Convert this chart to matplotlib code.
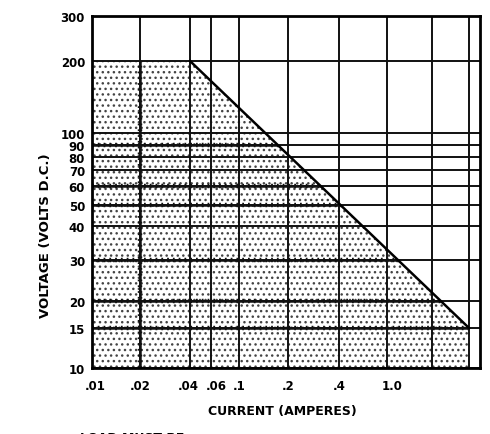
import numpy as np
import matplotlib
matplotlib.use("Agg")
import matplotlib.pyplot as plt
import matplotlib.transforms as mtrans

# grid / tick values
x_grid = [0.01, 0.02, 0.04, 0.06, 0.1, 0.2, 0.4, 1.0, 2.0, 3.0]
x_ticks = [0.01, 0.02, 0.04, 0.06, 0.1, 0.2, 0.4, 1.0]
x_ticklabels = [".01", ".02", ".04", ".06", ".1", ".2", ".4", "1.0"]
y_grid = [10, 15, 20, 30, 40, 50, 60, 70, 80, 90, 100, 200, 300]
y_ticklabels = ["10", "15", "20", "30", "40", "50", "60", "70", "80", "90", "100", "200", "300"]
beaded_y = [15, 20, 30, 50, 60, 90]
beaded_x = [0.02]

# safe operating boundary
limit_current = [0.01, 0.04, 3.0]
limit_voltage = [200, 200, 15]

# the printed paper is not a true log grid, so map positions per line
x_knots = [0.01, 0.02, 0.04, 0.06, 0.1, 0.2, 0.4, 1.0, 2.0, 3.0, 3.4]
x_pos = [92, 140, 190, 211, 239, 288, 339, 387, 432, 469, 480]
y_knots = [10, 15, 20, 30, 40, 50, 60, 70, 80, 90, 100, 200, 300]
y_pos = [369, 329, 302, 261, 227, 206, 187, 171, 158, 146, 134, 62, 17]

lx = np.log10(x_knots)
ly = np.log10(y_knots)
yp = -np.array(y_pos, dtype=float)


def fx(v):
    return np.interp(np.log10(np.clip(v, 1e-6, None)), lx, x_pos)


def fx_inv(p):
    return 10 ** np.interp(p, x_pos, lx)


def fy(v):
    return np.interp(np.log10(np.clip(v, 1e-6, None)), ly, yp)


def fy_inv(p):
    return 10 ** np.interp(p, yp, ly)


plt.rcParams["hatch.linewidth"] = 1.0

fig = plt.figure(figsize=(4.9, 4.35), dpi=100)
ax = fig.add_axes([92 / 490, 1 - 369 / 435, (480 - 92) / 490, (369 - 17) / 435])
ax.set_xscale("function", functions=(fx, fx_inv))
ax.set_yscale("function", functions=(fy, fy_inv))
ax.set_xlim(0.01, 3.4)
ax.set_ylim(10, 300)

# stippled area
px = [limit_current[0]] + limit_current + [limit_current[-1]]
py = [y_grid[0]] + limit_voltage + [y_grid[0]]
shade = ax.fill(px, py, facecolor="white", edgecolor="#444444", linewidth=0,
                hatch="...", zorder=1)[0]

for v in x_grid:
    ax.axvline(v, color="#111111", lw=1.4, zorder=2)
for v in y_grid:
    ax.axhline(v, color="#111111", lw=1.4, zorder=2)

# heavier beaded lines inside the shaded area
for v in beaded_y:
    for ls, lw in [("-", 1.8), ((0, (0.4, 0.9)), 3.2)]:
        ln = ax.axhline(v, color="#111111", lw=lw, ls=ls, zorder=3)
        ln.set_clip_path(shade)
for v in beaded_x:
    for ls, lw in [("-", 1.8), ((0, (0.4, 0.9)), 3.2)]:
        ln = ax.axvline(v, color="#111111", lw=lw, ls=ls, zorder=3)
        ln.set_clip_path(shade)

ax.plot(limit_current[1:], limit_voltage[1:], color="black", lw=1.8, zorder=4)

for s in ax.spines.values():
    s.set_linewidth(2)
    s.set_zorder(5)

ax.set_xticks(x_ticks, x_ticklabels)
ax.set_yticks(y_grid, y_ticklabels)
ax.xaxis.set_minor_locator(plt.NullLocator())
ax.yaxis.set_minor_locator(plt.NullLocator())
ax.tick_params(length=0, labelsize=8.5)
ax.tick_params(axis="x", pad=8)
ax.tick_params(axis="y", pad=5)
for t in ax.get_xticklabels() + ax.get_yticklabels():
    t.set_fontweight("bold")

# nudge crowded x labels apart, like the printed sheet
nudges = {".01": 3, ".04": -2, ".06": 5, "1.0": 5}
for t in ax.get_xticklabels():
    dx = nudges.get(t.get_text(), 0)
    if dx:
        t.set_transform(t.get_transform() + mtrans.ScaledTranslation(dx / 100, 0, fig.dpi_scale_trans))

fig.text(46 / 490, 1 - 236 / 435, "VOLTAGE (VOLTS D.C.)", rotation=90,
         ha="center", va="center", fontsize=9.5, fontweight="bold")
fig.text(282 / 490, 1 - 412 / 435, "CURRENT (AMPERES)",
         ha="center", va="center", fontsize=9, fontweight="bold")
fig.text(80 / 490, 1 - 439 / 435, "LOAD MUST BE",
         ha="left", va="center", fontsize=9, fontweight="bold")

fig.savefig("out.png", dpi=100)
